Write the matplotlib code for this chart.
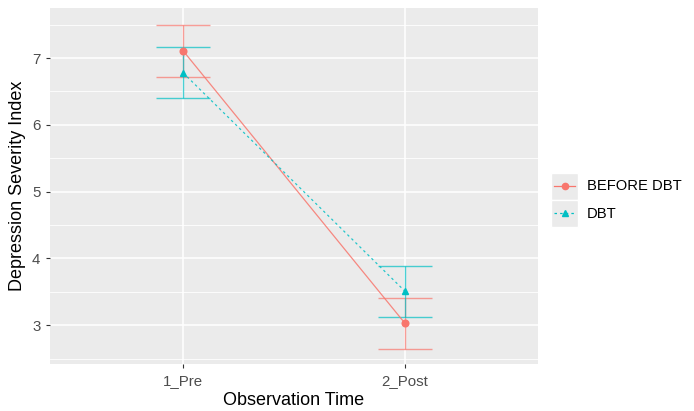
import matplotlib.pyplot as plt
from matplotlib.lines import Line2D
from matplotlib.patches import Rectangle

plt.rcParams['font.family'] = ['Liberation Sans', 'DejaVu Sans']

# data
times = ["1_Pre", "2_Post"]
groups = ["BEFORE DBT", "DBT"]
before_mean = [7.11, 3.03]
before_err = [0.39, 0.38]
dbt_mean = [6.78, 3.51]
dbt_err = [0.38, 0.38]

colors = {"BEFORE DBT": "#F8766D", "DBT": "#00BFC4"}
markers = {"BEFORE DBT": "o", "DBT": "^"}
styles = {"BEFORE DBT": "-", "DBT": (0, (2, 2.5))}
series = {"BEFORE DBT": (before_mean, before_err), "DBT": (dbt_mean, dbt_err)}

fig = plt.figure(figsize=(6.94, 4.11), dpi=100)
ax = fig.add_axes([50 / 694, 1 - 364 / 411, 488 / 694, 356 / 411])
ax.set_facecolor("#EBEBEB")

xs = list(range(1, len(times) + 1))
half_w = 0.12
for g in groups:
    m, e = series[g]
    c = colors[g]
    lo = [a - b for a, b in zip(m, e)]
    hi = [a + b for a, b in zip(m, e)]
    ax.vlines(xs, lo, hi, color=c, lw=1.0, alpha=0.7, zorder=3)
    ax.hlines(lo, [x - half_w for x in xs], [x + half_w for x in xs], color=c, lw=1.0, alpha=0.7, zorder=3)
    ax.hlines(hi, [x - half_w for x in xs], [x + half_w for x in xs], color=c, lw=1.0, alpha=0.7, zorder=3)
    ax.plot(xs, m, color=c, linestyle=styles[g], lw=0.9, alpha=0.85, zorder=4)
    ax.plot(xs, m, color=c, linestyle="none", marker=markers[g], ms=4.8, zorder=5)

ax.set_xlim(0.4, 2.6)
ax.set_ylim(2.42, 7.75)
ax.set_xticks(xs)
ax.set_xticklabels(times)
ax.set_yticks([3, 4, 5, 6, 7])
ax.set_yticks([2.5, 3.5, 4.5, 5.5, 6.5, 7.5], minor=True)
ax.grid(True, which="major", color="white", lw=1.1)
ax.grid(True, which="minor", axis="y", color="white", lw=0.6)
ax.set_axisbelow(True)
for s in ax.spines.values():
    s.set_visible(False)
ax.tick_params(axis="both", which="major", length=3, width=0.8, color="#333333",
               labelcolor="#4D4D4D", labelsize=10.8, pad=4)
ax.tick_params(axis="y", which="minor", length=0)
ax.set_xlabel("Observation Time", fontsize=13, labelpad=3)
ax.set_ylabel("Depression Severity Index", fontsize=13, labelpad=4)

# legend drawn by hand to get ggplot-style grey key boxes
W, H = 694, 411
key_x0, key_w, key_h = 551, 27, 27
key_tops = [173, 200]
for g, top in zip(groups, key_tops):
    fig.add_artist(Rectangle((key_x0 / W, 1 - (top + key_h) / H), key_w / W, key_h / H,
                             transform=fig.transFigure, facecolor="#EBEBEB", edgecolor="white", lw=1))
    yc = 1 - (top + key_h / 2) / H
    fig.add_artist(Line2D([(key_x0 + 3) / W, (key_x0 + key_w - 3) / W], [yc, yc],
                          transform=fig.transFigure, color=colors[g], linestyle=styles[g], lw=0.9))
    fig.add_artist(Line2D([(key_x0 + key_w / 2) / W], [yc], transform=fig.transFigure,
                          color=colors[g], marker=markers[g], ms=4.5, linestyle="none"))
    fig.text((key_x0 + key_w + 9) / W, yc, g, fontsize=10.6, va="center", ha="left", color="black")

fig.savefig("out.png", dpi=100)
